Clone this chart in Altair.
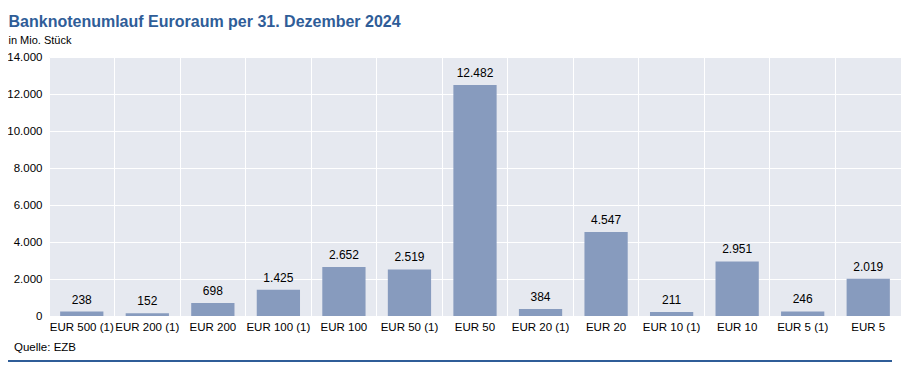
import altair as alt
import pandas as pd

categories = ["EUR 500 (1)", "EUR 200 (1)", "EUR 200", "EUR 100 (1)", "EUR 100",
              "EUR 50 (1)", "EUR 50", "EUR 20 (1)", "EUR 20", "EUR 10 (1)",
              "EUR 10", "EUR 5 (1)", "EUR 5"]
values = [238, 152, 698, 1425, 2652, 2519, 12482, 384, 4547, 211, 2951, 246, 2019]
y_ticks = [0, 2000, 4000, 6000, 8000, 10000, 12000, 14000]

title_text = "Banknotenumlauf Euroraum per 31. Dezember 2024"
subtitle_text = "in Mio. Stück"
source_text = "Quelle: EZB"

W, H = 852, 259
FONT = "Liberation Sans"
BLUE = "#2f5d98"
BAR = "#879bbe"

df = pd.DataFrame({"cat": categories, "val": values})
fmt = "replace(format(datum.value, ','), ',', '.')"

x = alt.X("cat:N", sort=categories, title=None,
          scale=alt.Scale(paddingInner=0, paddingOuter=0),
          axis=alt.Axis(bandPosition=0,
                        grid=True, gridColor="white", gridWidth=1, gridOpacity=1,
                        ticks=False, domain=False, labelAngle=0, labelFontSize=11.5,
                        labelColor="#000", labelPadding=5, labelOverlap=False,
                        labelLimit=0, labelFont=FONT, labelBaseline="top"))
y = alt.Y("val:Q", title=None,
          scale=alt.Scale(domain=[0, 14000], nice=False),
          axis=alt.Axis(values=y_ticks, labelExpr=fmt, grid=True, gridColor="white",
                        gridWidth=1, gridOpacity=1, ticks=False, domain=False,
                        labelFontSize=11.5, labelColor="#000", labelPadding=7,
                        labelFont=FONT))

bars = alt.Chart(df).mark_bar(width=alt.RelativeBandSize(0.66), color=BAR).encode(x=x, y=y)
labels = alt.Chart(df).transform_calculate(
    lbl="replace(format(datum.val, ','), ',', '.')"
).mark_text(fontSize=12, font=FONT, color="#000", baseline="bottom", dy=-5).encode(
    x=x, y=y, text="lbl:N")

one = alt.Data(values=[{}])
top_rule = alt.Chart(one).mark_rule(color=BLUE, strokeWidth=2).encode(
    x=alt.value(-41), x2=alt.value(843), y=alt.value(-50.7))
bottom_rule = alt.Chart(one).mark_rule(color=BLUE, strokeWidth=2).encode(
    x=alt.value(-41), x2=alt.value(843), y=alt.value(304))
title = alt.Chart(one).mark_text(text=title_text, align="left", baseline="alphabetic",
                                 fontSize=16, fontWeight="bold", font=FONT, color=BLUE).encode(
    x=alt.value(-40.5), y=alt.value(-30.5))
subtitle = alt.Chart(one).mark_text(text=subtitle_text, align="left", baseline="alphabetic",
                                    fontSize=11, font=FONT, color="#000").encode(
    x=alt.value(-40.5), y=alt.value(-13.3))
source = alt.Chart(one).mark_text(text=source_text, align="left", baseline="alphabetic",
                                  fontSize=11.5, font=FONT, color="#000").encode(
    x=alt.value(-35), y=alt.value(293.5))

chart = alt.layer(bars, labels, top_rule, bottom_rule, title, subtitle, source).properties(
    width=W, height=H,
    autosize=alt.AutoSizeParams(type="none"),
    padding={"left": 41, "top": 49, "right": 4, "bottom": 46},
    background="white",
).configure(font=FONT).configure_view(fill="#e6e9f0", stroke=None)

chart.save("out.html", embed_options={"renderer": "svg", "actions": False})
